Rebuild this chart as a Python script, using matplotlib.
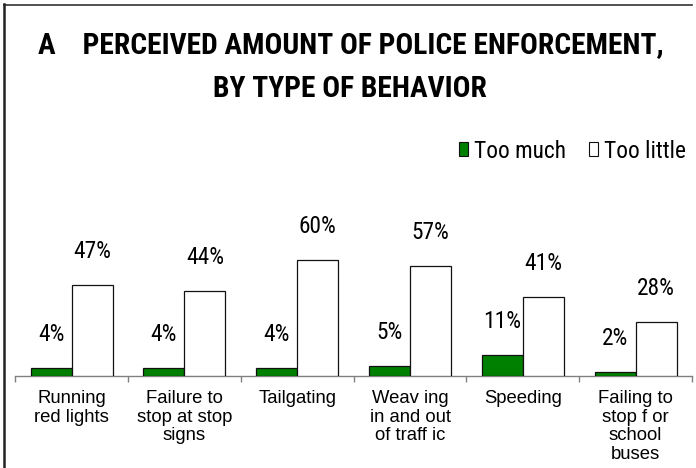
import matplotlib
matplotlib.use("Agg")
import matplotlib.pyplot as plt
from matplotlib import font_manager as fm
from matplotlib.patches import Patch
import numpy as np

categories = ["Running\nred lights", "Failure to\nstop at stop\nsigns", "Tailgating",
              "Weav ing\nin and out\nof traff ic", "Speeding", "Failing to\nstop f or\nschool\nbuses"]
too_much = [4, 4, 4, 5, 11, 2]
too_little = [47, 44, 60, 57, 41, 28]
series_names = ["Too much", "Too little"]
title_line1 = "A    PERCEIVED AMOUNT OF POLICE ENFORCEMENT,"
title_line2 = "BY TYPE OF BEHAVIOR"

names = {f.name for f in fm.fontManager.ttflist}
narrow = "Liberation Sans"
for cand in ["Liberation Sans Narrow", "Arial Narrow", "Nimbus Sans Narrow", "Roboto Condensed",
             "Archivo Narrow", "PT Sans Narrow", "IBM Plex Sans Condensed", "DejaVu Sans Condensed"]:
    if cand in names:
        narrow = cand
        break
regular = "Liberation Sans"

W, H = 696, 468
fig = plt.figure(figsize=(W / 100, H / 100), dpi=100)
fig.patch.set_facecolor("white")
renderer = fig.canvas.get_renderer()


def fit_size(s, family, weight, target_px, base=20.0):
    t = fig.text(0, 0, s, fontsize=base, family=family, fontweight=weight)
    w = t.get_window_extent(renderer).width
    t.remove()
    return base * target_px / w


# frame (top and left visible)
fig.add_artist(plt.Line2D([4 / W, 692 / W], [1 - 4.5 / H, 1 - 4.5 / H], color="#333333", lw=1.2,
                          transform=fig.transFigure))
fig.add_artist(plt.Line2D([3.8 / W, 3.8 / W], [0, 1 - 4 / H], color="#222222", lw=1.8,
                          transform=fig.transFigure))

x0, x1 = 15.3, 692.0
base = 376.0
pxper = 1.935
ymax = 70
top = base - ymax * pxper
ax = fig.add_axes([x0 / W, (H - base) / H, (x1 - x0) / W, (base - top) / H])
ax.set_xlim(-0.5, len(categories) - 0.5)
ax.set_ylim(0, ymax)

x = np.arange(len(categories))
bw = 41.0 / ((x1 - x0) / len(categories))
ax.bar(x - bw / 2, too_much, width=bw, color="#008000", edgecolor="#111111", linewidth=0.9, zorder=3)
ax.bar(x + bw / 2, too_little, width=bw, color="white", edgecolor="#111111", linewidth=0.9, zorder=3)

val_fs = fit_size("47%", narrow, "normal", 38)
for xs, vals in ((x - bw / 2, too_much), (x + bw / 2, too_little)):
    for xi, v in zip(xs, vals):
        ax.annotate(f"{v}%", (xi, v), xytext=(0, 24.0), textcoords="offset points",
                    ha="center", va="center", fontsize=val_fs, family=narrow, color="black",
                    annotation_clip=False)

for s in ["top", "right", "left"]:
    ax.spines[s].set_visible(False)
ax.spines["bottom"].set_color("#808080")
ax.spines["bottom"].set_linewidth(1.0)
ax.set_yticks([])
ax.set_xticks(np.arange(-0.5, len(categories), 1.0))
ax.set_xticklabels([])
ax.tick_params(axis="x", which="major", direction="out", length=4, width=1.0, color="#808080")
ax.set_xticks(x, minor=True)
ax.set_xticklabels(categories, minor=True, fontsize=13.3, family=regular, linespacing=1.13,
                   va="top", ha="center", multialignment="center")
ax.tick_params(axis="x", which="minor", length=0, pad=10)
ax.set_facecolor("none")

title_fs = fit_size(title_line1, narrow, "bold", 625)
fig.text(350.5 / W, 1 - 53 / H, title_line1, ha="center", va="baseline", fontsize=title_fs,
         fontweight="bold", family=narrow)
fig.text(350 / W, 1 - 97 / H, title_line2, ha="center", va="baseline", fontsize=title_fs,
         fontweight="bold", family=narrow)

# legend
leg_fs = fit_size("Too much", narrow, "normal", 92)
handles = [Patch(facecolor="#008000", edgecolor="#111111", linewidth=0.8),
           Patch(facecolor="white", edgecolor="#111111", linewidth=0.8)]
leg = fig.legend(handles, series_names, loc="center right", bbox_to_anchor=(686 / W, 1 - 151 / H),
                 frameon=False, prop={"family": narrow, "size": leg_fs}, ncol=2,
                 handlelength=0.38, handleheight=0.55, handletextpad=0.25, columnspacing=1.0,
                 borderaxespad=0, borderpad=0)

fig.savefig("out.png", dpi=100, facecolor="white")
